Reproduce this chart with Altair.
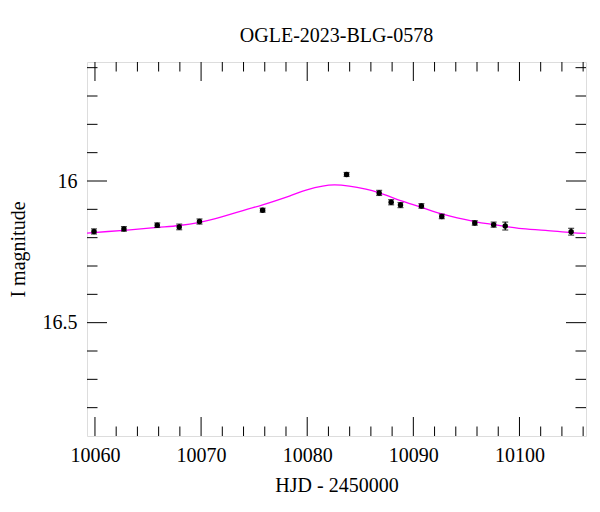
import altair as alt
import pandas as pd

# Photometry (HJD-2450000, I mag, error)
obs_t = [10059.91, 10062.73, 10065.87, 10067.94, 10069.85, 10075.80, 10083.71, 10086.78,
         10087.91, 10088.79, 10090.76, 10092.68, 10095.79, 10097.57, 10098.66, 10104.87]
obs_m = [16.178, 16.169, 16.156, 16.162, 16.143, 16.103, 15.977, 16.042,
         16.075, 16.085, 16.088, 16.125, 16.148, 16.154, 16.159, 16.179]
obs_e = [0.009, 0.008, 0.008, 0.010, 0.009, 0.007, 0.007, 0.009,
         0.009, 0.009, 0.008, 0.008, 0.008, 0.009, 0.014, 0.012]

# Model curve
mod_t = [10059.13, 10062.73, 10065.87, 10067.94, 10069.85, 10071.35, 10073.61, 10075.80,
         10078.32, 10079.89, 10081.45, 10082.55, 10083.96, 10085.53, 10086.78, 10088.97,
         10090.76, 10092.68, 10095.79, 10097.57, 10099.95, 10102.46, 10104.87, 10106.23]
mod_m = [16.184, 16.174, 16.164, 16.157, 16.146, 16.133, 16.108, 16.084,
         16.053, 16.032, 16.018, 16.014, 16.018, 16.029, 16.042, 16.071,
         16.093, 16.116, 16.143, 16.154, 16.167, 16.174, 16.182, 16.185]

x_major = [10060, 10070, 10080, 10090, 10100]
x_minor = [10062, 10064, 10066, 10068, 10072, 10074, 10076, 10078, 10082, 10084, 10086,
           10088, 10092, 10094, 10096, 10098, 10102, 10104, 10106]
y_major = [16.0, 16.5]
y_minor = [15.6, 15.7, 15.8, 15.9, 16.1, 16.2, 16.3, 16.4, 16.6, 16.7, 16.8]

x_domain = [10059.25, 10106.27]
y_domain = [15.58, 16.9]

W, H = 499, 374
FONT = "Liberation Serif"

obs = pd.DataFrame({"t": obs_t, "m": obs_m, "e": obs_e})
mod = pd.DataFrame({"t": mod_t, "m": mod_m})

xs = alt.Scale(domain=x_domain, nice=False, zero=False)
ys = alt.Scale(domain=y_domain, nice=False, zero=False, reverse=True)

xaxis = alt.Axis(values=x_major, format="d", ticks=False, domain=False, grid=False,
                 labelFont=FONT, labelFontSize=20, labelColor="black", labelPadding=9,
                 title="HJD - 2450000", titleFont=FONT, titleFontSize=20,
                 titleFontWeight="normal", titleColor="black", titlePadding=10)
yaxis = alt.Axis(values=y_major, format="~g", ticks=False, domain=False, grid=False,
                 labelFont=FONT, labelFontSize=20, labelColor="black", labelPadding=10,
                 title="I magnitude", titleFont=FONT, titleFontSize=20,
                 titleFontWeight="normal", titleColor="black", titlePadding=14)

X = lambda f: alt.X(f, type="quantitative", scale=xs, axis=xaxis)
Y = lambda f: alt.Y(f, type="quantitative", scale=ys, axis=yaxis)

curve = alt.Chart(mod).mark_line(color="#ff00ff", strokeWidth=1.3, clip=True,
                                 interpolate="catmull-rom").encode(x=X("t"), y=Y("m"))

base = alt.Chart(obs).transform_calculate(lo="datum.m - datum.e", hi="datum.m + datum.e")
bars = base.mark_rule(color="black", strokeWidth=1.2).encode(
    x=X("t"), y=Y("lo"), y2="hi")
cap_lo = base.mark_tick(color="black", orient="horizontal", size=6, thickness=1.2).encode(
    x=X("t"), y=Y("lo"))
cap_hi = base.mark_tick(color="black", orient="horizontal", size=6, thickness=1.2).encode(
    x=X("t"), y=Y("hi"))
pts = base.mark_point(filled=True, shape="circle", size=30, color="black", opacity=1).encode(
    x=X("t"), y=Y("m"))

def xt(vals, length):
    d = pd.DataFrame({"v": vals})
    bot = alt.Chart(d).mark_rule(color="black", strokeWidth=1).encode(
        x=X("v"), y=alt.value(H), y2=alt.value(H - length))
    top = alt.Chart(d).mark_rule(color="black", strokeWidth=1).encode(
        x=X("v"), y=alt.value(0), y2=alt.value(length))
    return [bot, top]

def yt(vals, length):
    d = pd.DataFrame({"v": vals})
    left = alt.Chart(d).mark_rule(color="black", strokeWidth=1).encode(
        y=Y("v"), x=alt.value(0), x2=alt.value(length))
    right = alt.Chart(d).mark_rule(color="black", strokeWidth=1).encode(
        y=Y("v"), x=alt.value(W), x2=alt.value(W - length))
    return [left, right]

layers = xt(x_major, 19) + xt(x_minor, 9.5) + yt(y_major, 20) + yt(y_minor, 10.5) + \
    [curve, bars, cap_lo, cap_hi, pts]

chart = alt.layer(*layers).properties(
    width=W, height=H,
    title=alt.TitleParams("OGLE-2023-BLG-0578", font=FONT, fontSize=20, fontWeight="normal",
                          color="black", anchor="middle", frame="group", offset=16,
                          baseline="bottom", dy=20),
    autosize=alt.AutoSizeParams(type="none"),
    padding={"left": 79, "top": 54, "right": 6, "bottom": 60},
).configure_view(stroke="black", strokeWidth=1.5).configure(background="white")

chart.save("out.html", embed_options={"renderer": "svg", "actions": False})
